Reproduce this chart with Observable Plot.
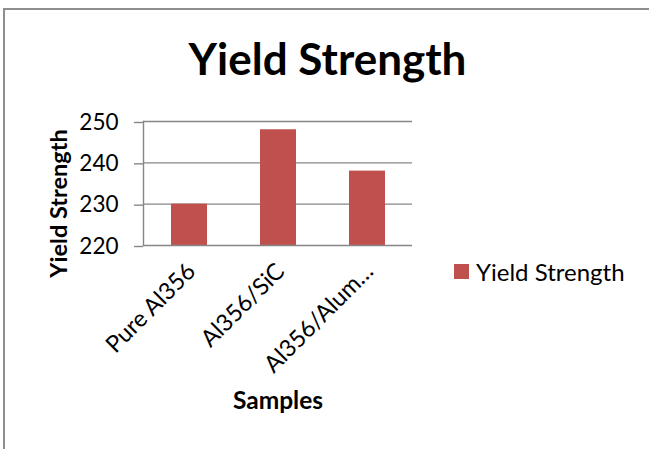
<!DOCTYPE html>
<html>
<head>
<meta charset="utf-8">
<script src="https://cdn.jsdelivr.net/npm/d3@7"></script>
<script src="https://cdn.jsdelivr.net/npm/@observablehq/plot@0.6"></script>
<style>
  html, body { margin: 0; padding: 0; background: #fff; }
  #chart { position: relative; width: 649px; height: 449px; overflow: hidden; background: #fff; }
  #chart > svg { position: absolute; left: 0; top: 0; }
  #border { position: absolute; left: 3px; top: 8px; width: 800px; height: 700px;
            border: 2px solid #8e8e8e; box-sizing: border-box; pointer-events: none; }
  #legend { position: absolute; left: 454px; top: 254px; }
  #legend svg { margin-right: 7px !important; }
</style>
</head>
<body>
<div id="chart"><div id="border"></div><div id="legend"></div></div>
<script>
// Yield strength of the three samples
const categories = ["Pure Al356", "Al356/SiC", "Al356/Alum…"];
const yieldStrength = [230, 248, 238];
const yTicks = [220, 230, 240, 250];
const seriesName = "Yield Strength";
const chartTitle = "Yield Strength";
const xTitle = "Samples";
const yTitle = "Yield Strength";

const barColor = "#C0504D";
const gridColor = "#868686";
const font = "Lato, sans-serif";

const rows = categories.map((sample, i) => ({sample, value: yieldStrength[i]}));

const W = 649, H = 449;
const ML = 143, MR = 237, MT = 121, MB = 204;
// place free-standing text relative to the frame's top-left corner
const at = (x, y) => ({frameAnchor: "top-left", dx: x - ML, dy: y - MT});

const svg = Plot.plot({
  width: W,
  height: H,
  marginLeft: ML,
  marginRight: MR,
  marginTop: MT,
  marginBottom: MB,
  style: {fontFamily: font, color: "#000", background: "transparent", overflow: "visible"},
  x: {domain: categories, paddingInner: 0.6, paddingOuter: 0.3},
  y: {domain: [yTicks[0], yTicks[yTicks.length - 1]]},
  marks: [
    Plot.ruleY(yTicks.slice(1), {stroke: gridColor, strokeWidth: 1.4}),
    Plot.barY(rows, {x: "sample", y1: yTicks[0], y2: "value", fill: barColor}),
    Plot.ruleY([yTicks[0]], {stroke: gridColor, strokeWidth: 1.4}),
    Plot.frame({anchor: "left", stroke: gridColor, strokeWidth: 1.4}),
    Plot.axisY({ticks: yTicks, tickSize: 9, tickPadding: 16, stroke: gridColor, strokeWidth: 1.4,
                fontSize: 22.5, dy: 1, label: null}),
    Plot.axisX({tickSize: 0, tickPadding: 22, tickRotate: -45, fontSize: 23.5, dx: 2, label: null}),
    Plot.text([chartTitle], {...at(327, 74), text: d => d, fontSize: 44, fontWeight: "bold",
                             textAnchor: "middle", lineAnchor: "bottom", fill: "#000"}),
    Plot.text([yTitle], {...at(58.5, 203), text: d => d, fontSize: 23.5, fontWeight: "bold",
                         rotate: -90, textAnchor: "middle", lineAnchor: "middle", fill: "#000"}),
    Plot.text([xTitle], {...at(277.5, 408), text: d => d, fontSize: 24.5, fontWeight: "bold",
                         textAnchor: "middle", lineAnchor: "bottom", fill: "#000"})
  ]
});
document.getElementById("chart").prepend(svg);

const legend = Plot.legend({
  legend: "swatches",
  color: {type: "ordinal", domain: [seriesName], range: [barColor]},
  swatchSize: 15,
  style: {fontFamily: font, fontSize: "24px", color: "#000", margin: "0", minHeight: "0"}
});
const legendBox = document.getElementById("legend");
legendBox.appendChild(legend);

// align the swatch square with its slot beside the plot
const sw = legendBox.querySelector("svg").getBoundingClientRect();
legendBox.style.left = (454 + parseFloat(legendBox.style.left || 454) - sw.left) + "px";
legendBox.style.top = (263.5 + parseFloat(legendBox.style.top || 254) - sw.top) + "px";
</script>
</body>
</html>
